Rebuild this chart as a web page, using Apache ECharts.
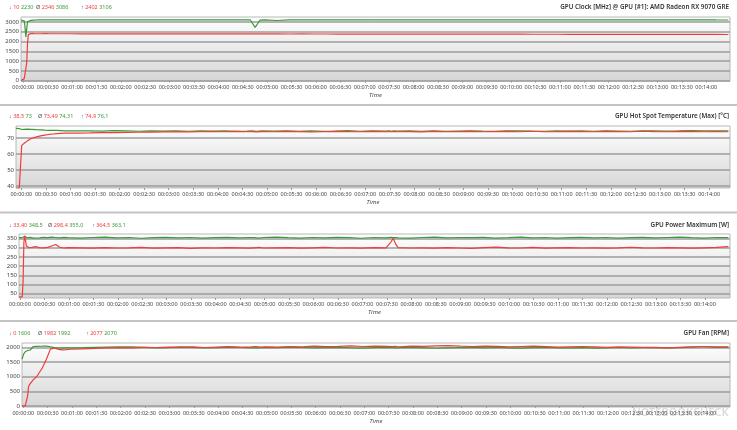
<!DOCTYPE html>
<html>
<head>
<meta charset="utf-8">
<script src="https://cdn.jsdelivr.net/npm/echarts@6/dist/echarts.min.js"></script>
<style>
html, body { margin: 0; padding: 0; background: #fff; }
#main { width: 737px; height: 430px; }
</style>
</head>
<body>
<div id="main"></div>
<script>
// sample times, seconds since the start of the log
var timeSec = [0, 2, 4, 5, 6, 7, 8, 9, 10, 12,
    14, 16, 18, 20, 25, 30, 35, 40, 45, 50,
    55, 60, 75, 90, 105, 120, 135, 150, 165, 180,
    195, 210, 225, 240, 255, 270, 282, 288, 294, 300,
    315, 330, 345, 360, 375, 390, 405, 420, 435, 450,
    456, 459, 462, 465, 480, 495, 510, 525, 540, 555,
    570, 585, 600, 615, 630, 645, 660, 675, 690, 705,
    720, 735, 750, 765, 780, 795, 810, 825, 840, 855,
    870];

// GPU clock [MHz]
var clockRed = [10, 60, 100, 110, 160, 900, 1900, 2350, 2402, 2398,
    2395, 2396, 2394, 2395, 2394, 2396, 2395, 2393, 2395, 2394,
    2395, 2393, 2392, 2394, 2391, 2392, 2390, 2391, 2389, 2390,
    2388, 2389, 2387, 2386, 2388, 2386, 2385, 2387, 2386, 2384,
    2384, 2382, 2383, 2381, 2382, 2380, 2381, 2379, 2380, 2378,
    2379, 2378, 2377, 2376, 2377, 2375, 2374, 2375, 2373, 2372,
    2371, 2372, 2370, 2371, 2369, 2368, 2369, 2367, 2366, 2367,
    2365, 2366, 2364, 2363, 2364, 2362, 2361, 2362, 2360, 2358,
    2356];
var clockGreen = [3086, 3080, 3060, 2700, 2230, 2650, 3000, 3040, 3060, 3080,
    3100, 3095, 3100, 3098, 3100, 3102, 3100, 3098, 3100, 3102,
    3100, 3101, 3100, 3099, 3102, 3100, 3101, 3100, 3099, 3100,
    3101, 3100, 3100, 3099, 3100, 3100, 3098, 2720, 3095, 3100,
    3070, 3100, 3101, 3100, 3099, 3100, 3100, 3101, 3100, 3099,
    3100, 3100, 3100, 3101, 3100, 3100, 3099, 3100, 3101, 3100,
    3100, 3099, 3100, 3101, 3100, 3100, 3099, 3100, 3101, 3100,
    3100, 3099, 3100, 3100, 3101, 3100, 3099, 3100, 3100, 3098,
    3097];

// GPU hot spot temperature [°C]
var tempRed = [38.8, 38.8, 38.8, 38.9, 39.0, 65.5, 66.0, 66.4, 66.8, 67.6,
    68.3, 69.0, 69.6, 70.1, 70.8, 71.4, 71.9, 72.3, 72.6, 72.8,
    73.0, 73.1, 73.2, 73.3, 73.5, 73.4, 73.6, 73.7, 73.8, 73.9,
    74.0, 73.9, 74.0, 74.1, 74.0, 74.2, 74.0, 74.1, 73.9, 74.1,
    74.0, 74.2, 74.1, 73.9, 74.0, 74.2, 74.1, 74.0, 74.2, 74.1,
    74.0, 74.1, 74.2, 74.0, 74.1, 73.9, 74.2, 74.0, 74.1, 74.2,
    74.0, 74.1, 74.2, 74.0, 74.3, 74.1, 74.0, 74.2, 74.1, 74.0,
    74.2, 74.1, 74.0, 74.3, 74.1, 74.0, 74.2, 74.1, 74.0, 74.1,
    74.0];
var tempGreen = [76.1, 76.1, 76.0, 76.0, 76.0, 75.4, 75.3, 75.4, 75.5, 75.5,
    75.6, 75.5, 75.5, 75.4, 75.3, 75.2, 75.0, 74.9, 74.8, 74.8,
    74.7, 74.6, 74.6, 74.5, 74.4, 74.7, 74.5, 74.3, 74.6, 74.4,
    74.5, 74.3, 74.6, 74.4, 74.5, 74.2, 74.4, 74.6, 74.3, 74.5,
    74.4, 74.6, 74.3, 74.5, 74.2, 74.4, 74.7, 74.3, 74.5, 74.4,
    74.5, 74.3, 74.5, 74.4, 74.6, 74.3, 74.5, 74.2, 74.4, 74.6,
    74.4, 74.3, 74.5, 74.6, 74.4, 74.3, 74.5, 74.4, 74.6, 74.3,
    74.5, 74.4, 74.3, 74.5, 74.6, 74.4, 74.5, 74.7, 74.5, 74.6,
    74.6];

// GPU power maximum [W]
var powerRed = [33.4, 33.4, 33.5, 120, 330, 364.5, 340, 310, 300, 301,
    300, 302, 305, 306, 301, 300, 302, 310, 318, 303,
    299, 301, 300, 298, 301, 299, 300, 302, 298, 300,
    301, 297, 300, 299, 301, 300, 298, 300, 302, 299,
    300, 301, 298, 300, 302, 299, 300, 298, 301, 300,
    330, 352, 320, 301, 299, 300, 298, 301, 299, 297,
    301, 304, 300, 299, 302, 298, 300, 301, 299, 300,
    298, 300, 303, 300, 299, 301, 300, 298, 300, 302,
    306];
var powerGreen = [355, 356, 354, 357, 360, 363.1, 358, 355, 354, 356,
    357, 355, 353, 356, 354, 357, 355, 358, 356, 354,
    357, 355, 353, 356, 358, 354, 356, 352, 355, 357,
    354, 356, 353, 355, 357, 354, 356, 355, 353, 356,
    358, 355, 353, 356, 354, 357, 355, 352, 356, 354,
    357, 355, 356, 354, 353, 356, 358, 354, 356, 355,
    357, 353, 355, 358, 354, 356, 353, 355, 357, 354,
    356, 353, 355, 357, 354, 356, 358, 355, 353, 356,
    355];

// GPU fan [RPM]
var fanRed = [0, 0, 0, 0, 0, 350, 650, 720, 780, 830,
    900, 960, 1000, 1060, 1300, 1600, 1950, 1990, 1940, 1925,
    1930, 1945, 1960, 1975, 1990, 2000, 1995, 2010, 2005, 2020,
    2010, 2030, 2005, 2020, 2035, 2010, 2025, 2040, 2020, 2030,
    2020, 2040, 2030, 2050, 2035, 2045, 2060, 2040, 2050, 2045,
    2040, 2045, 2035, 2030, 2050, 2045, 2060, 2070, 2050, 2040,
    2055, 2045, 2030, 2040, 2050, 2035, 2020, 2030, 2040, 2025,
    2010, 2030, 2020, 2010, 2000, 1990, 2010, 2030, 2040, 2010,
    2030];
var fanGreen = [1606, 1780, 1860, 1890, 1900, 1905, 1910, 1915, 1920, 1950,
    2040, 2050, 2045, 2065, 2050, 2055, 2030, 2000, 1990, 1985,
    1990, 1995, 2000, 2010, 2020, 2030, 2025, 2010, 1990, 2000,
    2030, 2010, 1990, 2000, 2020, 2010, 1995, 1990, 2000, 2010,
    2000, 2015, 2005, 1990, 2000, 2010, 1995, 1985, 2000, 2005,
    2000, 1995, 1990, 2000, 2010, 1995, 1980, 1990, 2000, 2010,
    1990, 2005, 1995, 1985, 2000, 2010, 1990, 1995, 2000, 1985,
    1995, 2005, 1990, 2000, 2010, 1995, 2000, 2020, 2040, 2030,
    2020];

// tick labels
var timeTicks = [0, 30, 60, 90, 120, 150, 180, 210, 240, 270, 300, 330, 360, 390, 420,
    450, 480, 510, 540, 570, 600, 630, 660, 690, 720, 750, 780, 810, 840];
var clockTicks = [0, 500, 1000, 1500, 2000, 2500, 3000];
var tempTicks = [40, 50, 60, 70];
var powerTicks = [50, 100, 150, 200, 250, 300, 350];
var fanTicks = [0, 500, 1000, 1500, 2000];

// header texts: [symbol, red value, green value]
var clockStats = [['↓', '10', '2230'], ['Ø', '2346', '3086'], ['↑', '2402', '3106']];
var tempStats = [['↓', '38,5', '73'], ['Ø', '73,49', '74,31'], ['↑', '74,9', '76,1']];
var powerStats = [['↓', '33,40', '348,5'], ['Ø', '298,4', '355,0'], ['↑', '364,5', '363,1']];
var fanStats = [['↓', '0', '1606'], ['Ø', '1982', '1992'], ['↑', '2077', '2070']];
var titles = ['GPU Clock [MHz] @ GPU [#1]: AMD Radeon RX 9070 GRE',
    'GPU Hot Spot Temperature (Max) [°C]',
    'GPU Power Maximum [W]',
    'GPU Fan [RPM]'];

var RED = '#f23c3c', GREEN = '#3a9a3a', FONT = '"Noto Sans", sans-serif';

var panels = [
    { red: clockRed, green: clockGreen, ticks: clockTicks, stats: clockStats, min: -20, max: 3250,
      left: 21, top: 17, height: 64, off: 2.8, headY: 7, statX: [9, 36, 81] },
    { red: tempRed, green: tempGreen, ticks: tempTicks, stats: tempStats, min: 38.8, max: 77.6,
      left: 16, top: 126, height: 62, off: 6.5, headY: 116, statX: [9, 38, 81] },
    { red: powerRed, green: powerGreen, ticks: powerTicks, stats: powerStats, min: 27, max: 375,
      left: 19, top: 234, height: 64, off: 1.2, headY: 225, statX: [9, 48, 92] },
    { red: fanRed, green: fanGreen, ticks: fanTicks, stats: fanStats, min: -40, max: 2160,
      left: 22, top: 343, height: 64, off: 1.6, headY: 333.5, statX: [9, 38, 86] }
];

function pad(n) { return n < 10 ? '0' + n : '' + n; }
function hms(s) {
    s = Math.round(s);
    return pad(Math.floor(s / 3600)) + ':' + pad(Math.floor(s % 3600 / 60)) + ':' + pad(s % 60);
}
function pairs(arr) {
    return timeSec.map(function (t, j) { return [t, arr[j]]; });
}

var grids = [], xAxes = [], yAxes = [], series = [], graphics = [];

panels.forEach(function (p, i) {
    var labelAt = timeTicks.map(function (v) { return v + p.off; });
    grids.push({
        left: p.left, right: 7, top: p.top, height: p.height,
        show: true, borderColor: '#b8b8b8', borderWidth: 1,
        backgroundColor: new echarts.graphic.LinearGradient(0, 0, 0, 1, [
            { offset: 0, color: '#ffffff' },
            { offset: 1, color: '#d6d6d6' }
        ])
    });
    xAxes.push({
        type: 'value', gridIndex: i, min: 0, max: 872,
        name: 'Time', nameLocation: 'middle', nameGap: 11,
        nameTextStyle: { fontStyle: 'italic', fontSize: 6, color: '#444', fontFamily: FONT },
        axisLine: { show: false },
        splitLine: { show: false },
        axisTick: { show: true, length: 2, lineStyle: { color: '#999' }, customValues: labelAt },
        axisLabel: {
            fontSize: 5.5, color: '#444', margin: 3, fontFamily: FONT, customValues: labelAt,
            formatter: function (v) { return hms(v - p.off); }
        }
    });
    yAxes.push({
        type: 'value', gridIndex: i, min: p.min, max: p.max,
        axisLine: { show: false },
        axisTick: { show: false, customValues: p.ticks },
        axisLabel: {
            fontSize: 6, color: '#444', margin: 2, fontFamily: FONT, customValues: p.ticks,
            formatter: function (v) { return String(v); }
        },
        splitLine: { show: true, lineStyle: { color: '#9c9c9c', width: 1.5 } }
    });
    series.push({
        type: 'line', xAxisIndex: i, yAxisIndex: i, data: pairs(p.green),
        showSymbol: false, lineStyle: { color: GREEN, width: 1.2 }, itemStyle: { color: GREEN }
    });
    series.push({
        type: 'line', xAxisIndex: i, yAxisIndex: i, data: pairs(p.red),
        showSymbol: false, lineStyle: { color: RED, width: 1.2 }, itemStyle: { color: RED }
    });

    p.stats.forEach(function (s, k) {
        graphics.push({
            type: 'text', x: p.statX[k], y: p.headY,
            style: {
                text: '{s|' + s[0] + '} {r|' + s[1] + '} {g|' + s[2] + '}',
                verticalAlign: 'middle', fontSize: 5.5, fontFamily: FONT,
                rich: {
                    s: { fill: '#555', fontSize: 5.5, fontFamily: FONT },
                    r: { fill: RED, fontSize: 5.5, fontFamily: FONT },
                    g: { fill: GREEN, fontSize: 5.5, fontFamily: FONT }
                }
            }
        });
    });
    graphics.push({
        type: 'text', x: 729, y: p.headY,
        style: {
            text: titles[i], align: 'right', verticalAlign: 'middle',
            fontSize: 6.3, fontWeight: 600, fill: '#333', fontFamily: FONT
        }
    });
});

// panel separators
[105, 212.5, 321].forEach(function (y) {
    graphics.push({
        type: 'line', shape: { x1: 0, y1: y, x2: 737, y2: y },
        style: { stroke: '#c4c4c4', lineWidth: 2 }
    });
});

// watermark
graphics.push({
    type: 'text', x: 632, y: 413,
    style: {
        text: 'NOTEBOOKCHECK', verticalAlign: 'middle', fontSize: 11, fontWeight: 600,
        fill: 'rgba(150,150,150,0.35)', fontFamily: FONT
    }
});

var chart = echarts.init(document.getElementById('main'));
chart.setOption({
    animation: false,
    backgroundColor: '#ffffff',
    grid: grids,
    xAxis: xAxes,
    yAxis: yAxes,
    series: series,
    graphic: graphics
});
</script>
</body>
</html>
